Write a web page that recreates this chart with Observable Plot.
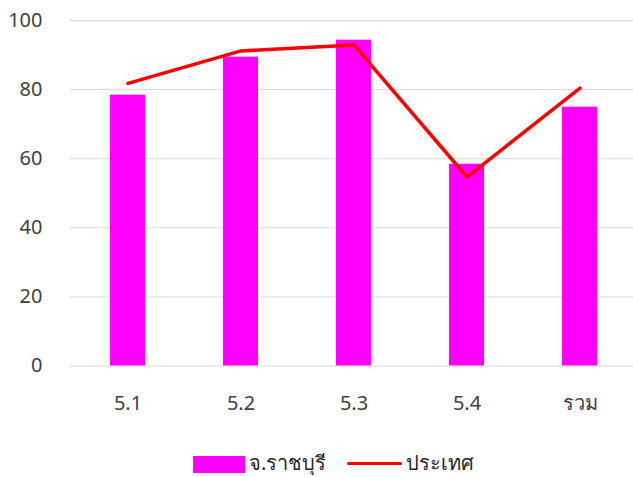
<!DOCTYPE html>
<html>
<head>
<meta charset="utf-8">
<script src="https://cdn.jsdelivr.net/npm/d3@7"></script>
<script src="https://cdn.jsdelivr.net/npm/@observablehq/plot@0.6"></script>
<style>
  html, body { margin: 0; padding: 0; background: #fff; }
  body { width: 633px; height: 477px; overflow: hidden; font-family: "Noto Sans", sans-serif; }
  #legend { position: relative; height: 37px; }
  .sw { position: absolute; }
  .lt { position: absolute; font-size: 20px; color: #262626; line-height: 20px; }
</style>
</head>
<body>
<div id="chart"></div>
<div id="legend"></div>
<script>
const categories = ["5.1", "5.2", "5.3", "5.4", "รวม"];
const ratchaburi = [78.4, 89.4, 94.3, 58.4, 74.9];
const country = [81.8, 91.2, 92.9, 54.7, 80.4];
const yTicks = [0, 20, 40, 60, 80, 100];
const seriesNames = ["จ.ราชบุรี", "ประเทศ"];
const colors = ["#FF00FF", "#FF0000"];

const barData = categories.map((c, i) => ({cat: c, value: ratchaburi[i]}));
const lineData = categories.map((c, i) => ({cat: c, value: country[i]}));

const chart = Plot.plot({
  width: 633,
  height: 440,
  marginTop: 20,
  marginBottom: 74.5,
  marginLeft: 70,
  marginRight: -5,
  style: {fontFamily: "'Noto Sans', sans-serif", fontSize: "20px", color: "#404040", background: "#fff", overflow: "visible"},
  x: {domain: categories, paddingInner: 0.69, paddingOuter: 0.345, label: null},
  y: {domain: [0, 100], label: null},
  marks: [
    Plot.ruleY(yTicks, {stroke: "#d9d9d9", strokeWidth: 1}),
    Plot.axisY({ticks: yTicks, tickSize: 0, tickPadding: 28, label: null, fontSize: 20}),
    Plot.axisX({tickSize: 0, tickPadding: 30, label: null, fontSize: 20}),
    Plot.barY(barData, {x: "cat", y: "value", fill: colors[0]}),
    Plot.lineY(lineData, {x: "cat", y: "value", stroke: colors[1], strokeWidth: 3.5, strokeLinecap: "round", strokeLinejoin: "round"})
  ]
});
document.getElementById("chart").appendChild(chart);

const legend = document.getElementById("legend");
// swatch 1
const s1 = document.createElement("div");
s1.className = "sw";
Object.assign(s1.style, {left: "193px", top: "16px", width: "52px", height: "17px", background: colors[0]});
legend.appendChild(s1);
const t1 = document.createElement("div");
t1.className = "lt";
t1.textContent = seriesNames[0];
Object.assign(t1.style, {left: "249px", top: "13px"});
legend.appendChild(t1);
const s2 = document.createElement("div");
s2.className = "sw";
Object.assign(s2.style, {left: "347px", top: "22px", width: "55px", height: "3px", background: colors[1], borderRadius: "2px"});
legend.appendChild(s2);
const t2 = document.createElement("div");
t2.className = "lt";
t2.textContent = seriesNames[1];
Object.assign(t2.style, {left: "406px", top: "13px"});
legend.appendChild(t2);
</script>
</body>
</html>
